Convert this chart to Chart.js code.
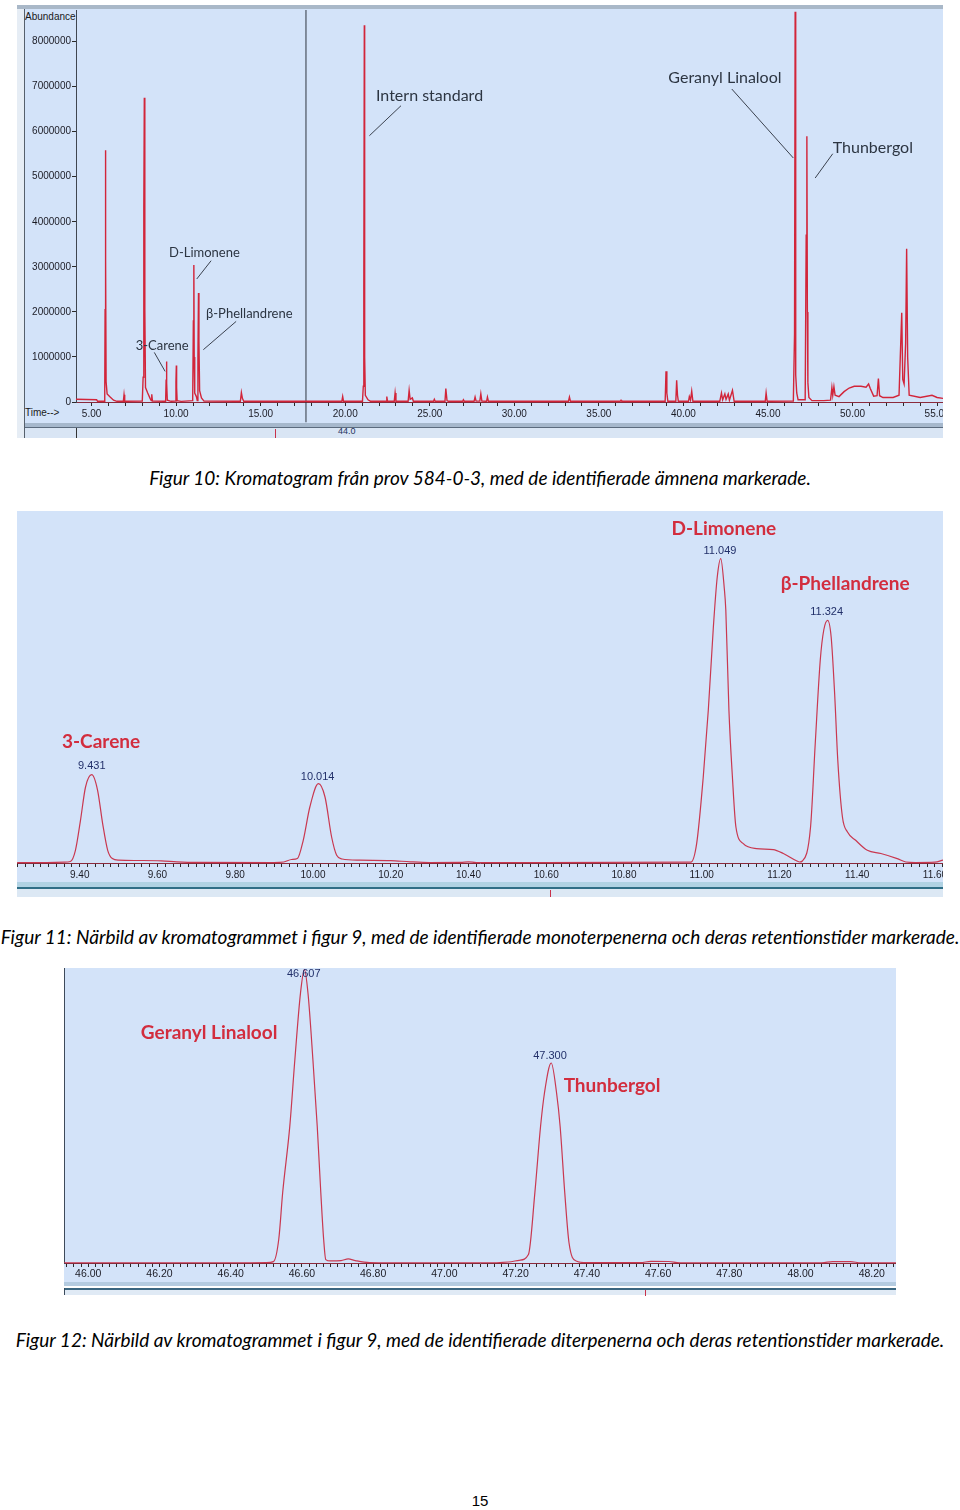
<!DOCTYPE html>
<html lang="sv">
<head>
<meta charset="utf-8">
<title>Kromatogram</title>
<script src="https://cdn.jsdelivr.net/npm/chart.js@4.4.1/dist/chart.umd.min.js"></script>
<style>
html,body{margin:0;padding:0;background:#fff}
body{position:relative;width:960px;height:1510px;overflow:hidden}
.box{position:absolute}
canvas{position:absolute;display:block}
.cap{position:absolute;left:0;width:960px;text-align:center;font-family:Lato,'Liberation Sans',sans-serif;font-style:italic;font-size:19px;line-height:22px;color:#000;white-space:nowrap}
.small{position:absolute;font-family:'Liberation Sans',Arial,sans-serif;font-size:10px;line-height:12px;color:#1a1a1a;white-space:nowrap}
</style>
</head>
<body>
<!-- Figur 10 frame -->
<div class="box" style="left:17px;top:5px;width:926px;height:433px;background:#d3e3f9"></div>
<div class="box" style="left:17px;top:5px;width:926px;height:4px;background:#a9b8c8"></div>
<div class="box" style="left:17px;top:9px;width:7px;height:429px;background:#e6edf5"></div>
<div class="box" style="left:24px;top:9px;width:1px;height:429px;background:#56606c"></div>
<div class="box" style="left:25px;top:423px;width:918px;height:4px;background:#a6b8cc"></div>
<div class="box" style="left:25px;top:427px;width:918px;height:1px;background:#5b6b7e"></div>
<div class="box" style="left:25px;top:428px;width:918px;height:10px;background:#d9e5f4"></div>
<div class="box" style="left:76px;top:428px;width:1px;height:10px;background:#333"></div>
<div class="box" style="left:275px;top:429px;width:1px;height:9px;background:#c8324a"></div>
<div class="small" style="left:338px;top:425px;font-size:9px;color:#25345e">44.0</div>
<div class="small" style="left:25px;top:11px">Abundance</div>
<div class="small" style="left:25px;top:407px">Time--&gt;</div>
<canvas id="c1" width="926" height="433" style="left:17px;top:5px"></canvas>

<div class="cap" style="top:467px">Figur 10: Kromatogram från prov 584-0-3, med de identifierade ämnena markerade.</div>

<!-- Figur 11 frame -->
<div class="box" style="left:17px;top:511px;width:926px;height:371px;background:#d3e3f9"></div>
<div class="box" style="left:17px;top:882px;width:926px;height:5px;background:#b0d2e3"></div>
<div class="box" style="left:17px;top:887px;width:926px;height:2px;background:#2f6e86"></div>
<div class="box" style="left:17px;top:889px;width:926px;height:8px;background:#dce8f4"></div>
<div class="box" style="left:550px;top:890px;width:1px;height:7px;background:#c8324a"></div>
<canvas id="c2" width="926" height="386" style="left:17px;top:511px"></canvas>

<div class="cap" style="top:926px">Figur 11: Närbild av kromatogrammet i figur 9, med de identifierade monoterpenerna och deras retentionstider markerade.</div>

<!-- Figur 12 frame -->
<div class="box" style="left:64px;top:968px;width:832px;height:314px;background:#d3e3f9"></div>
<div class="box" style="left:64px;top:1282px;width:832px;height:4px;background:#b4cbe0"></div>
<div class="box" style="left:64px;top:1288px;width:832px;height:2px;background:#3a6680"></div>
<div class="box" style="left:64px;top:1290px;width:832px;height:5px;background:#e0eaf5"></div>
<div class="box" style="left:64px;top:1288px;width:1px;height:7px;background:#3a4a5c"></div>
<div class="box" style="left:645px;top:1290px;width:1px;height:6px;background:#c8324a"></div>
<canvas id="c3" width="834" height="327" style="left:62px;top:968px"></canvas>

<div class="cap" style="top:1329px">Figur 12: Närbild av kromatogrammet i figur 9, med de identifierade diterpenerna och deras retentionstider markerade.</div>
<div class="cap" style="top:1490px;font-style:normal;font-size:15px;font-family:'Liberation Sans',Arial,sans-serif">15</div>

<script>
// ================= DATA =================
// Figur 10 – full chromatogram: [retention time (min), abundance]
const fig10Trace = [
 [4.08, 60000], [5.30, 50000], [5.36, 15000], [5.74, 15000],
 [5.78, 250000], [5.80, 2050000], [5.82, 5590000], [5.84, 3150000], [5.86, 450000], [5.92, 180000], [6.10, 110000], [6.30, 40000], [6.50, 15000],
 [6.88, 15000], [6.92, 160000], [6.96, 15000],
 [8.00, 20000], [8.05, 550000], [8.09, 4300000], [8.12, 6750000], [8.15, 2050000], [8.19, 320000], [8.32, 200000], [8.46, 80000], [8.53, 30000], [8.56, 170000], [8.60, 20000],
 [9.38, 15000], [9.41, 500000], [9.431, 900000], [9.45, 420000], [9.48, 40000], [9.70, 15000],
 [9.97, 20000], [9.99, 450000], [10.014, 810000], [10.03, 320000], [10.06, 30000], [10.30, 15000],
 [10.98, 30000], [11.02, 1800000], [11.049, 3040000], [11.07, 1000000], [11.10, 200000], [11.20, 120000], [11.25, 30000],
 [11.29, 1000000], [11.324, 2420000], [11.35, 1350000], [11.39, 250000], [11.50, 90000], [11.65, 20000],
 [13.80, 15000], [13.86, 210000], [13.92, 80000], [14.00, 15000],
 [19.80, 15000], [19.85, 120000], [19.90, 15000],
 [21.02, 15000], [21.07, 350000], [21.10, 2500000], [21.13, 8360000], [21.15, 1000000], [21.19, 150000], [21.35, 50000], [21.50, 15000],
 [22.42, 15000], [22.46, 120000], [22.50, 15000],
 [22.90, 15000], [22.95, 200000], [23.00, 15000],
 [23.72, 15000], [23.78, 260000], [23.84, 60000], [23.97, 90000], [24.03, 15000],
 [25.22, 15000], [25.27, 60000], [25.32, 15000],
 [25.90, 15000], [25.95, 300000], [26.02, 30000], [26.10, 15000],
 [26.95, 15000], [26.99, 50000], [27.05, 15000],
 [27.62, 15000], [27.68, 110000], [27.74, 20000], [27.96, 20000], [28.02, 180000], [28.08, 20000], [28.36, 15000], [28.41, 110000], [28.47, 15000],
 [33.20, 15000], [33.26, 110000], [33.32, 15000],
 [36.26, 15000], [36.31, 40000], [36.36, 15000],
 [38.92, 15000], [38.97, 680000], [39.02, 200000], [39.08, 15000],
 [39.55, 15000], [39.60, 480000], [39.65, 150000], [39.70, 15000],
 [40.30, 15000], [40.35, 120000], [40.42, 40000], [40.49, 240000], [40.56, 15000],
 [42.15, 15000], [42.25, 200000], [42.32, 50000], [42.45, 180000], [42.52, 60000], [42.65, 180000], [42.72, 40000], [42.90, 260000], [43.00, 15000],
 [44.84, 15000], [44.89, 200000], [44.95, 15000],
 [46.50, 20000], [46.57, 1500000], [46.607, 8660000], [46.63, 4000000], [46.65, 600000], [46.70, 200000], [46.78, 50000],
 [47.20, 50000], [47.26, 3700000], [47.30, 5900000], [47.33, 2000000], [47.36, 430000], [47.42, 100000], [47.60, 30000],
 [48.30, 30000], [48.70, 40000], [48.78, 320000], [48.83, 150000], [48.90, 340000], [48.97, 150000],
 [49.20, 120000], [49.50, 230000], [49.80, 310000], [50.10, 350000], [50.50, 350000], [50.80, 330000], [50.95, 400000], [51.05, 300000], [51.25, 130000], [51.45, 140000], [51.53, 520000], [51.60, 140000],
 [51.80, 100000], [52.40, 100000], [52.75, 150000], [52.85, 1300000], [52.91, 1980000], [52.97, 500000], [53.05, 400000], [53.14, 1300000], [53.20, 3400000], [53.26, 1000000], [53.35, 150000],
 [54.00, 100000], [54.70, 150000], [55.00, 100000], [55.35, 80000]
];
const fig10Range = [4.08, 55.35];
const fig10YMax = 8700000;
const fig10MarkerTime = 17.68;
const fig10MarkerSpan = [-450000, 8700000];
const fig10XTickLabels = [5, 10, 15, 20, 25, 30, 35, 40, 45, 50, 55];
const fig10YTickLabels = [0, 1000000, 2000000, 3000000, 4000000, 5000000, 6000000, 7000000, 8000000];
const fig10BigNames = ['Intern standard', 'Geranyl Linalool', 'Thunbergol'];
const fig10BigNamePos = [[21.82, 6797000], [39.11, 7190000], [48.83, 5650000]];
const fig10SmallNames = ['D-Limonene', 'β-Phellandrene', '3-Carene'];
const fig10SmallNamePos = [[9.58, 3307000], [11.77, 1953000], [7.61, 1249000]];
const fig10Leaders = [
 [23.30, 6576000, 21.43, 5910000],
 [42.86, 6946000, 46.50, 5415000],
 [48.83, 5510000, 47.79, 4971000],
 [12.07, 3136000, 11.22, 2730000],
 [13.55, 1789000, 11.61, 1161000],
 [8.71, 1101000, 9.35, 679000]
];

// Figur 11 – monoterpene close-up
const fig11Trace = [
 [9.239, 5000], [9.30, 5000], [9.36, 8000], [9.376, 15000], [9.389, 127000], [9.402, 427000], [9.415, 760000], [9.431, 883000],
 [9.446, 727000], [9.459, 394000], [9.472, 127000], [9.484, 44000], [9.50, 28000], [9.55, 25000], [9.61, 22000], [9.65, 12000], [9.70, 6000],
 [9.90, 5000], [9.925, 10000], [9.945, 35000], [9.960, 45000], [9.975, 227000], [9.992, 560000], [10.014, 793000],
 [10.031, 660000], [10.048, 260000], [10.061, 77000], [10.075, 40000], [10.12, 28000], [10.20, 24000], [10.25, 12000], [10.30, 5000],
 [10.38, 6000], [10.40, 12000], [10.42, 5000],
 [10.972, 8000], [10.987, 194000], [11.004, 860000], [11.017, 1530000], [11.030, 2360000], [11.040, 2860000], [11.049, 3044000],
 [11.058, 2750000], [11.062, 2530000], [11.070, 1530000], [11.079, 860000], [11.088, 360000], [11.107, 194000], [11.141, 144000],
 [11.184, 134000], [11.210, 95000], [11.245, 20000], [11.252, 10000],
 [11.259, 20000], [11.280, 360000], [11.292, 1190000], [11.305, 2030000], [11.314, 2330000], [11.324, 2427000], [11.333, 2260000],
 [11.342, 1690000], [11.350, 1030000], [11.362, 460000], [11.375, 310000], [11.396, 227000], [11.426, 127000], [11.461, 95000],
 [11.503, 44000], [11.525, 10000], [11.55, 5000], [11.60, 8000], [11.621, 30000]
];
const fig11Range = [9.2387, 11.6207];
const fig11YMax = 3520000;
const fig11XTickLabels = [9.40, 9.60, 9.80, 10.00, 10.20, 10.40, 10.60, 10.80, 11.00, 11.20, 11.40, 11.60];
const fig11Names = ['3-Carene', 'D-Limonene', 'β-Phellandrene'];
const fig11NamePos = [[9.455, 1207000], [11.057, 3344000], [11.369, 2787000]];
const fig11RetTimes = ['9.431', '10.014', '11.049', '11.324'];
const fig11RetPos = [[9.431, 967000], [10.012, 860000], [11.047, 3120000], [11.3215, 2510000]];

// Figur 12 – diterpene close-up
const fig12Trace = [
 [45.932, 5000], [46.40, 5000], [46.50, 10000], [46.52, 40000], [46.535, 700000], [46.546, 2080000], [46.566, 4040000], [46.580, 5980000],
 [46.596, 7970000], [46.607, 8660000], [46.617, 7970000], [46.631, 5980000], [46.643, 4040000], [46.653, 2080000], [46.661, 700000],
 [46.667, 100000], [46.68, 60000], [46.71, 70000], [46.73, 120000], [46.75, 70000], [46.79, 10000], [46.85, 5000],
 [47.10, 5000], [47.18, 30000], [47.21, 80000], [47.236, 250000], [47.254, 2070000], [47.270, 4030000], [47.281, 5020000], [47.300, 5905000],
 [47.315, 5020000], [47.325, 4030000], [47.338, 2070000], [47.350, 590000], [47.37, 60000], [47.40, 10000],
 [47.55, 10000], [47.58, 50000], [47.63, 45000], [47.66, 8000], [48.06, 8000], [48.09, 40000], [48.14, 40000], [48.17, 5000], [48.268, 5000]
];
const fig12Range = [45.932, 48.268];
const fig12YMax = 8710000;
const fig12XTickLabels = [46.00, 46.20, 46.40, 46.60, 46.80, 47.00, 47.20, 47.40, 47.60, 47.80, 48.00, 48.20];
const fig12Names = ['Geranyl Linalool', 'Thunbergol'];
const fig12NamePos = [[46.3395, 6809000], [47.4707, 5235000]];
const fig12RetTimes = ['46.607', '47.300'];
const fig12RetPos = [[46.605, 8533000], [47.2966, 6121000]];

// ================= RENDERING =================
Chart.defaults.font.family = "'Liberation Sans', Arial, sans-serif";

const annot = {
  id: 'annot',
  afterDatasetsDraw(chart, args, o) {
    const ctx = chart.ctx, xs = chart.scales.x, ys = chart.scales.y;
    ctx.save();
    (o.lines || []).forEach(([t1, v1, t2, v2]) => {
      ctx.beginPath();
      ctx.strokeStyle = o.lineColor || '#333';
      ctx.lineWidth = 1;
      ctx.moveTo(xs.getPixelForValue(t1), ys.getPixelForValue(v1));
      ctx.lineTo(xs.getPixelForValue(t2), ys.getPixelForValue(v2));
      ctx.stroke();
    });
    (o.groups || []).forEach(g => {
      ctx.font = g.font;
      ctx.fillStyle = g.color;
      ctx.textAlign = g.align;
      ctx.textBaseline = 'middle';
      g.texts.forEach((s, i) => ctx.fillText(s, xs.getPixelForValue(g.pos[i][0]), ys.getPixelForValue(g.pos[i][1])));
    });
    ctx.restore();
  }
};

function fixBox(w, h) {
  return s => {
    if (w !== null) s.width = w;
    if (h !== null) s.height = h;
    s.paddingLeft = 0; s.paddingRight = 0; s.paddingTop = 0; s.paddingBottom = 0;
  };
}
function labelFrom(list) {
  return v => list.some(L => Math.abs(L - v) < 1e-6) ? v.toFixed(2) : '';
}

function xAxis(range, minor, labels, height, fontSize, pad) {
  return {
    type: 'linear', min: range[0], max: range[1],
    afterFit: fixBox(null, height),
    ticks: { stepSize: minor, includeBounds: false, autoSkip: false, maxRotation: 0, minRotation: 0,
             padding: pad, color: '#1b1b24', font: { size: fontSize }, callback: labelFrom(labels) },
    grid: { drawOnChartArea: false, drawTicks: true, tickLength: 4, color: '#2a2a2a', tickWidth: 1 },
    border: { display: true, color: '#8a2a3c', width: 1 }
  };
}

// ---- Figur 10 ----
new Chart(document.getElementById('c1'), {
  type: 'line',
  data: { datasets: [
    { data: fig10Trace, borderColor: '#d2253a', borderWidth: 1.4, pointRadius: 0, tension: 0, fill: false },
    { data: [[fig10MarkerTime, fig10MarkerSpan[0]], [fig10MarkerTime, fig10MarkerSpan[1]]], borderColor: '#2f3540', borderWidth: 1, pointRadius: 0, clip: false, fill: false }
  ]},
  options: {
    responsive: false, animation: false, events: [],
    layout: { padding: { top: 5, left: 0, right: 0, bottom: 0 } },
    plugins: { legend: { display: false }, tooltip: { enabled: false },
      annot: {
        lineColor: '#3a414e',
        lines: fig10Leaders,
        groups: [
          { texts: fig10BigNames, pos: fig10BigNamePos, font: "16px Lato, 'Liberation Sans', sans-serif", color: '#2c3542', align: 'left' },
          { texts: fig10SmallNames, pos: fig10SmallNamePos, font: "13px Lato, 'Liberation Sans', sans-serif", color: '#2c3542', align: 'left' }
        ]
      }
    },
    scales: {
      x: xAxis(fig10Range, 1, fig10XTickLabels, 36, 10, 2),
      y: {
        type: 'linear', min: 0, max: fig10YMax,
        afterFit: fixBox(59, null),
        afterBuildTicks: s => { s.ticks = fig10YTickLabels.map(v => ({ value: v })); },
        ticks: { padding: 1, color: '#1b1b24', font: { size: 10 }, callback: v => String(v) },
        grid: { drawOnChartArea: false, drawTicks: true, tickLength: 4, color: '#2a2a2a' },
        border: { display: true, color: '#404650', width: 1 }
      }
    }
  },
  plugins: [annot]
});

// ---- Figur 11 ----
new Chart(document.getElementById('c2'), {
  type: 'line',
  data: { datasets: [
    { data: fig11Trace, borderColor: '#c93850', borderWidth: 1.2, pointRadius: 0, cubicInterpolationMode: 'monotone', fill: false }
  ]},
  options: {
    responsive: false, animation: false, events: [],
    layout: { padding: 0 },
    plugins: { legend: { display: false }, tooltip: { enabled: false },
      annot: {
        groups: [
          { texts: fig11Names, pos: fig11NamePos, font: "bold 19px Lato, 'Liberation Sans', sans-serif", color: '#d22d3e', align: 'center' },
          { texts: fig11RetTimes, pos: fig11RetPos, font: "11px 'Liberation Sans', Arial, sans-serif", color: '#22306a', align: 'center' }
        ]
      }
    },
    scales: {
      x: xAxis(fig11Range, 0.02, fig11XTickLabels, 34, 10, 2),
      y: { type: 'linear', min: 0, max: fig11YMax, display: false }
    }
  },
  plugins: [annot]
});

// ---- Figur 12 ----
new Chart(document.getElementById('c3'), {
  type: 'line',
  data: { datasets: [
    { data: fig12Trace, borderColor: '#c93850', borderWidth: 1.2, pointRadius: 0, cubicInterpolationMode: 'monotone', fill: false }
  ]},
  options: {
    responsive: false, animation: false, events: [],
    layout: { padding: 0 },
    plugins: { legend: { display: false }, tooltip: { enabled: false },
      annot: {
        groups: [
          { texts: fig12Names, pos: fig12NamePos, font: "bold 19px Lato, 'Liberation Sans', sans-serif", color: '#d22d3e', align: 'center' },
          { texts: fig12RetTimes, pos: fig12RetPos, font: "11px 'Liberation Sans', Arial, sans-serif", color: '#22306a', align: 'center' }
        ]
      }
    },
    scales: {
      x: xAxis(fig12Range, 0.02, fig12XTickLabels, 32, 10.5, 1),
      y: {
        type: 'linear', min: 0, max: fig12YMax,
        afterFit: fixBox(2, null),
        ticks: { display: false },
        grid: { display: false },
        border: { display: true, color: '#3e4a5a', width: 1 }
      }
    }
  },
  plugins: [annot]
});
</script>
</body>
</html>
